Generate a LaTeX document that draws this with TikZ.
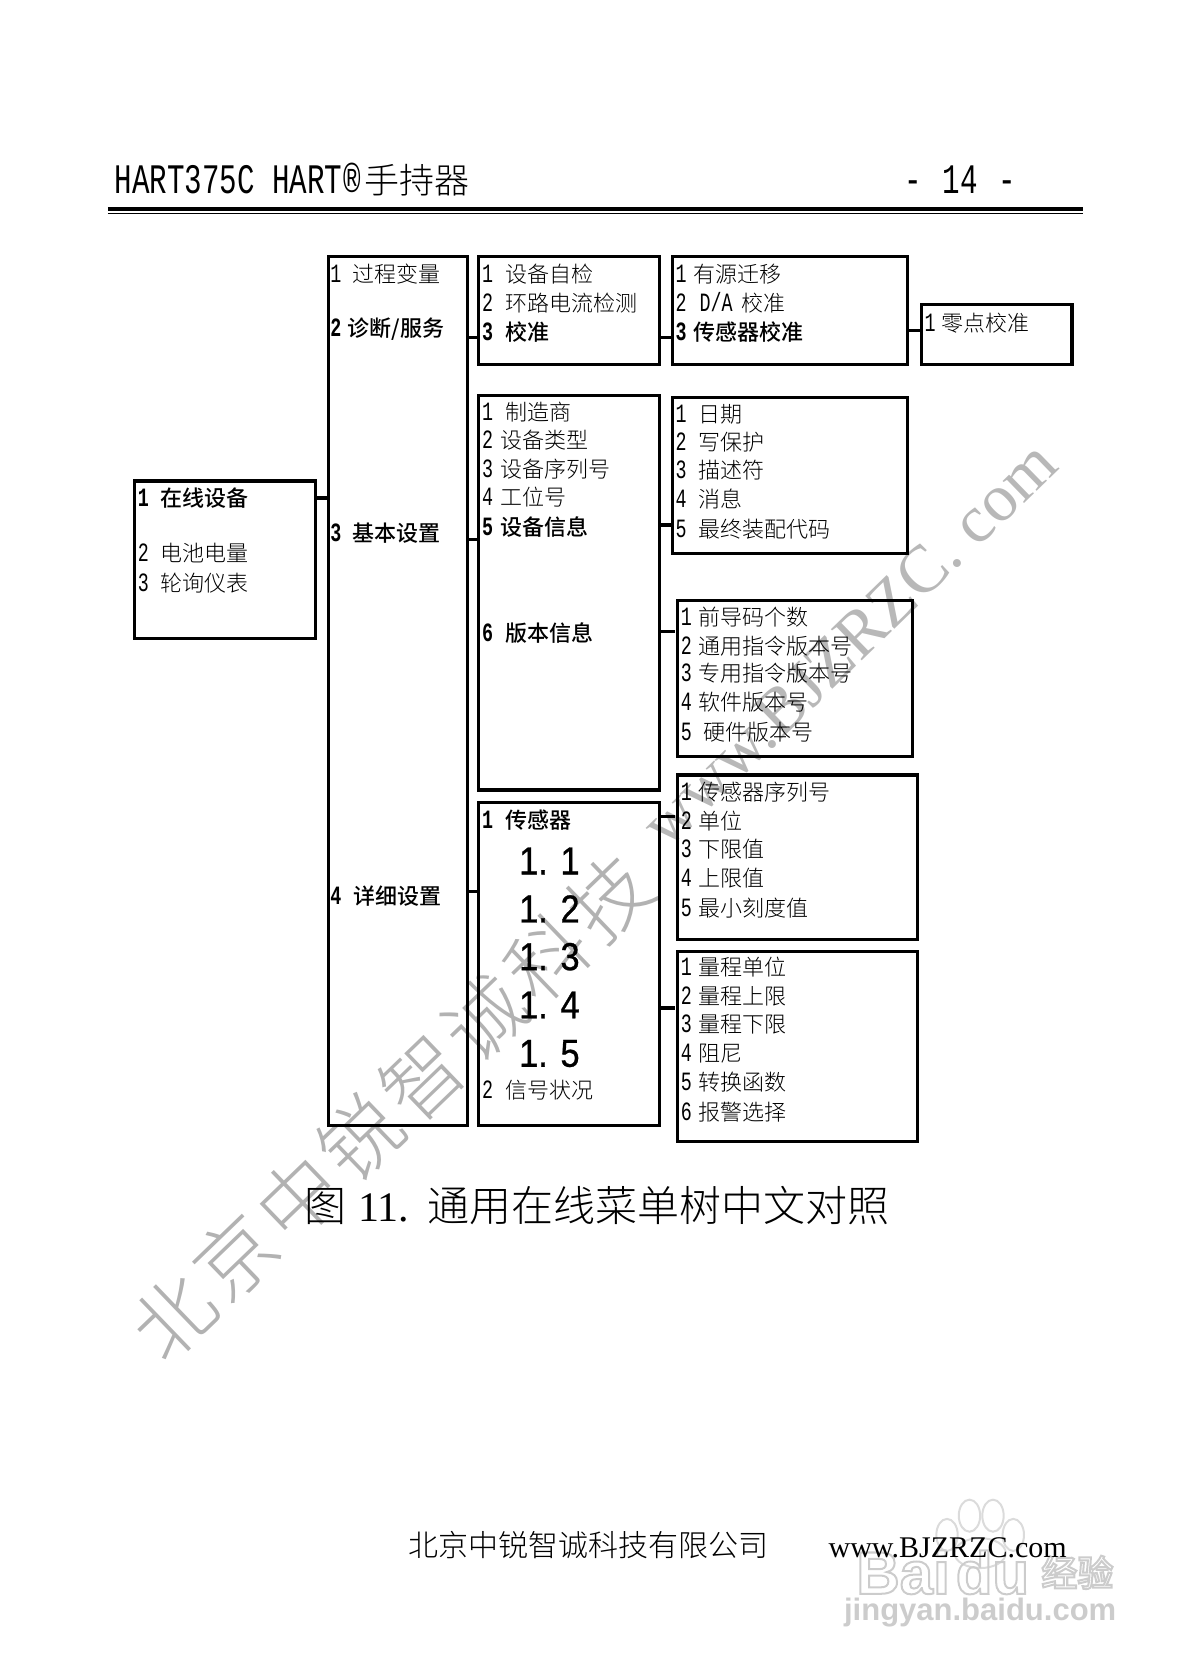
\documentclass[tikz,border=0pt]{standalone}
\usepackage{fontspec}
\usetikzlibrary{fit}
\setmainfont{Noto Sans CJK SC Light}[BoldFont={Noto Sans CJK SC Medium}]
\newfontfamily\lat[Scale=1.2,FakeStretch=0.695]{Liberation Mono}
\newfontfamily\wmark[LetterSpace=8]{Noto Sans CJK SC Light}
\newfontfamily\wmlat{Liberation Serif}
\newfontfamily\arial{Liberation Sans}
\newfontfamily\arialn[FakeStretch=0.88,FakeBold=0.8]{Liberation Sans}
\newfontfamily\tnr{Liberation Serif}
\newcounter{tn}
\newcommand{\fz}[1]{\fontsize{#1}{#1}\selectfont}
\newcommand{\hollowon}[1]{\special{pdf:code q 1 Tr #1 w}}
\newcommand{\hollowoff}{\special{pdf:code Q}}
% menu box: name, x1, y1, x2, y2
\newcommand{\menubox}[5]{\node[menubox,fit={(#2,#3)(#4,#5)}] (#1) {};}
% menu line: x, centre y, digit-to-text offset, digit, text
\newcommand{\mline}[5]{\stepcounter{tn}\node[menuline] (t\arabic{tn}) at (#1,#2+8) {\makebox[#3pt][l]{\lat #4}#5};}
\newcommand{\mbold}[5]{\stepcounter{tn}\node[menuline,font=\fz{22}\bfseries,text=black] (t\arabic{tn}) at (#1,#2+8) {\makebox[#3pt][l]{\lat #4}#5};}
\tikzset{
  menubox/.style={draw=black,line width=3.2pt,inner sep=0pt,outer sep=0pt},
  menuline/.style={anchor=base west,inner sep=0pt,outer sep=0pt,font=\fz{22},text=black},
  link/.style={draw=black,line width=3.4pt},
  bigitem/.style={anchor=base,inner sep=0pt,font=\arialn\fz{39}},
  plain/.style={anchor=base west,inner sep=0pt}
}
\begin{document}
\begin{tikzpicture}[x=1.0688pt,y=-1.0688pt]
\useasboundingbox (0,0) rectangle (1111.5,1568);
% watermarks
\node[inner sep=0pt,rotate=43.9,font=\wmark\fz{80},text=black!30] (wm1) at (366,1036) {北京中锐智诚科技};
\node[inner sep=0pt,rotate=44.2,font=\wmlat\fz{67},text=black!28] (wm2) at (794,602) {www.BJZRZC. com};
\begin{scope}[draw=black!14,line width=2pt]
\draw (907,1418) ellipse (10 and 15);
\draw (929,1418) ellipse (10 and 15);
\draw (886,1436) ellipse (10 and 15);
\draw (948,1436) ellipse (10 and 15);
\draw (917,1453) ellipse (24 and 14);
\end{scope}
\node[inner sep=0pt,font=\arial\bfseries\fz{60},text=black!20] (bd1) at (882,1471) {\hollowon{2}Bai\hspace{6pt}du\hollowoff};
\node[inner sep=0pt,font=\bfseries\fz{36},text=black!20] (bd2) at (1008,1471) {\hollowon{2}经验\hollowoff};
\node[inner sep=0pt,font=\arial\bfseries\fz{31},text=black!20] (bd3) at (917,1509) {jingyan.baidu.com};
% header
\node[plain,font=\fz{35}] (head) at (107,181) {\lat HART375C HART\hspace{1pt}®\hspace{4pt}\normalfont 手持器};
\node[plain,font=\fz{35}] (page) at (846,181) {\lat -\hspace{3pt} 14\hspace{3pt} -};
\draw[line width=3.5pt] (101,195.5) coordinate (ra) -- (1013,195.5) coordinate (rb);
\draw[line width=1.5pt] (101,199.8) coordinate (rc) -- (1013,199.8) coordinate (rd);
% boxes
\menubox{root}{126}{450}{295}{597}
\menubox{colb}{307}{240}{437}{1053}
\menubox{cone}{448}{240}{617}{341}
\menubox{ctwo}{448}{370}{617}{739}
\menubox{cthree}{448}{751}{617}{1053}
\menubox{done}{629}{240}{849}{341}
\menubox{eone}{862}{285}{1003}{341}
\menubox{dtwo}{629}{372}{849}{518}
\menubox{dthree}{634}{562}{854}{708}
\menubox{dfour}{634}{725}{858}{879}
\menubox{dfive}{634}{890}{858}{1068}
% connectors
\draw[link] (root.east |- 0,466) -- (colb.west |- 0,466);
\draw[link] (colb.east |- 0,316) -- (cone.west |- 0,316);
\draw[link] (colb.east |- 0,505) -- (ctwo.west |- 0,505);
\draw[link] (colb.east |- 0,834) -- (cthree.west |- 0,834);
\draw[link] (cone.east |- 0,316) -- (done.west |- 0,316);
\draw[link] (done.east |- 0,309) -- (eone.west |- 0,309);
\draw[link] (ctwo.east |- 0,491) -- (dtwo.west |- 0,491);
\draw[link,shorten >=3pt] (ctwo.east |- 0,591) -- (dthree.west |- 0,591);
\draw[link,shorten >=3pt] (cthree.east |- 0,764) -- (dfour.west |- 0,764);
\draw[link,shorten >=3pt] (cthree.east |- 0,943) -- (dfive.west |- 0,943);
% root
\mbold{129}{466}{22.5}{1}{在线设备}
\mline{129}{517}{22.5}{2}{电池电量}
\mline{129}{545}{22.5}{3}{轮询仪表}
% column B
\mline{309}{256}{22.5}{1}{过程变量}
\mbold{309}{307}{17.5}{2}{诊断/服务}
\mbold{309}{499}{22.5}{3}{基本设置}
\mbold{309}{838}{23.5}{4}{详细设置}
% C1
\mline{451}{256}{23.5}{1}{设备自检}
\mline{451}{283}{23.5}{2}{环路电流检测}
\mbold{451}{311}{23.5}{3}{校准}
% C2
\mline{451}{385}{23.5}{1}{制造商}
\mline{451}{412}{18}{2}{设备类型}
\mline{451}{439}{18}{3}{设备序列号}
\mline{451}{465}{18}{4}{工位号}
\mbold{451}{493}{18}{5}{设备信息}
\mbold{451}{592}{23.5}{6}{版本信息}
% C3
\mbold{451}{767}{23.5}{1}{传感器}
\node[bigitem] (i1) at (514,818) {1. 1};
\node[bigitem] (i2) at (514,863) {1. 2};
\node[bigitem] (i3) at (514,907.6) {1. 3};
\node[bigitem] (i4) at (514,952.7) {1. 4};
\node[bigitem] (i5) at (514,998) {1. 5};
\mline{451}{1020}{23.5}{2}{信号状况}
% D1
\mline{632}{256}{17.5}{1}{有源迁移}
\mline{632}{283}{24}{2}{\lat D/A\hspace{4pt}\normalfont{} 校准}
\mbold{632}{311}{17.5}{3}{传感器校准}
% E1
\mline{865}{302}{16.5}{1}{零点校准}
% D2
\mline{632}{387}{23}{1}{日期}
\mline{632}{413}{23}{2}{写保护}
\mline{632}{440}{23}{3}{描述符}
\mline{632}{467}{23}{4}{消息}
\mline{632}{495}{23}{5}{最终装配代码}
% D3
\mline{637}{577}{17.5}{1}{前导码个数}
\mline{637}{604}{17.5}{2}{通用指令版本号}
\mline{637}{630}{17.5}{3}{专用指令版本号}
\mline{637}{657}{17.5}{4}{软件版本号}
\mline{637}{685}{23}{5}{硬件版本号}
% D4
\mline{637}{741}{17.5}{1}{传感器序列号}
\mline{637}{768}{17.5}{2}{单位}
\mline{637}{794}{17.5}{3}{下限值}
\mline{637}{821}{17.5}{4}{上限值}
\mline{637}{849}{17.5}{5}{最小刻度值}
% D5
\mline{637}{905}{17.5}{1}{量程单位}
\mline{637}{932}{17.5}{2}{量程上限}
\mline{637}{958}{17.5}{3}{量程下限}
\mline{637}{985}{17.5}{4}{阻尼}
\mline{637}{1012}{17.5}{5}{转换函数}
\mline{637}{1040}{17.5}{6}{报警选择}
% caption and footer
\node[plain,font=\fz{42}] (cap) at (285,1143) {\makebox[53.4pt][l]{图}\makebox[69.5pt][l]{\tnr 11.}通用在线菜单树中文对照};
\node[plain,font=\fz{30}] (foot) at (382,1456) {北京中锐智诚科技有限公司};
\node[plain,font=\tnr\fz{30}] (web) at (775,1457) {www.BJZRZC.com};
\end{tikzpicture}
\end{document}
